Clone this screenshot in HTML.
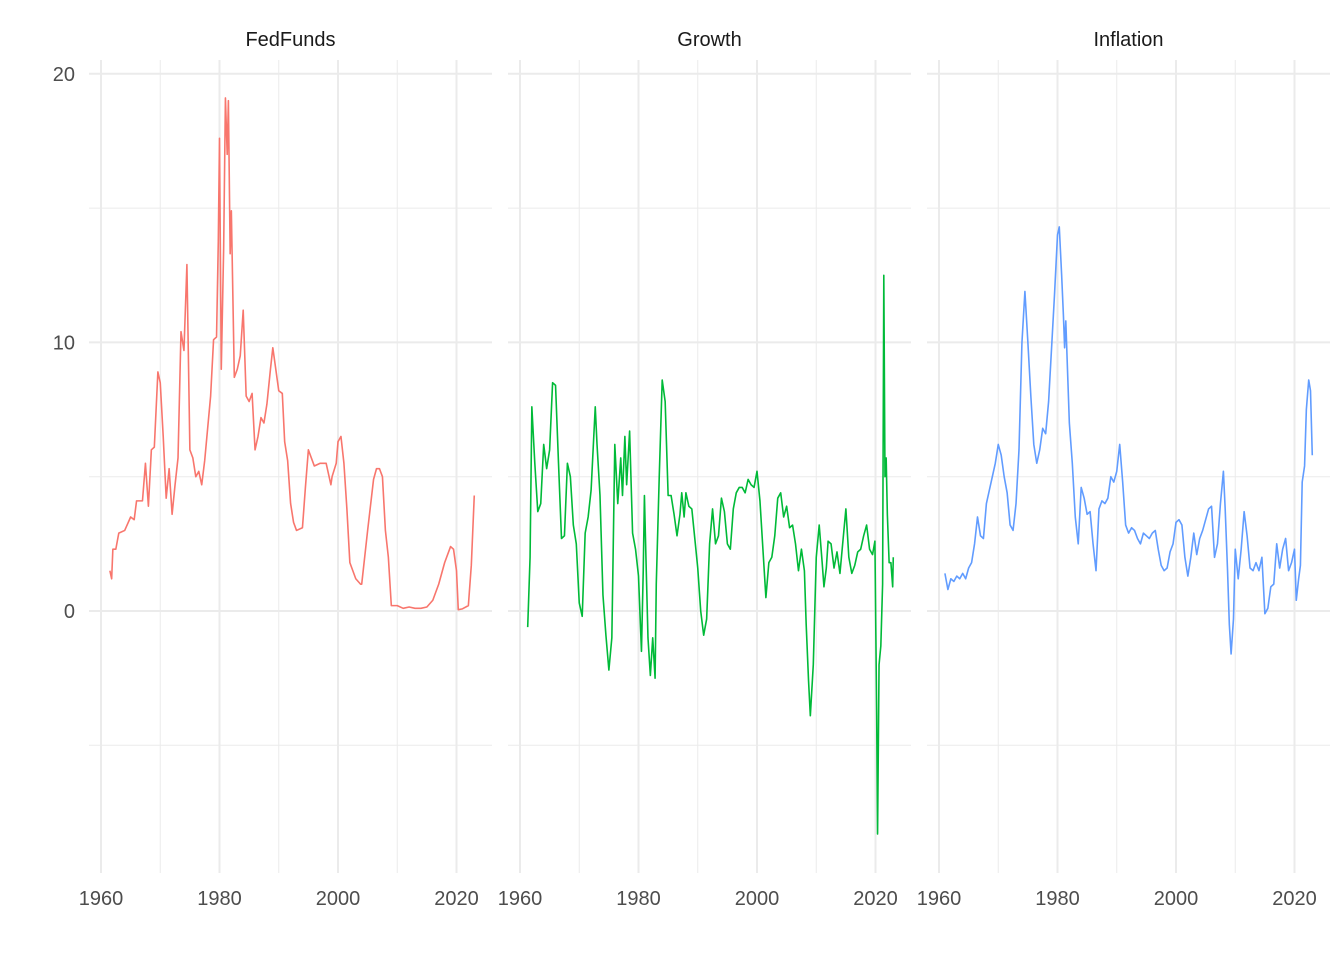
<!DOCTYPE html>
<html><head><meta charset="utf-8"><style>
html,body{margin:0;padding:0;background:#fff}
svg{display:block;font-family:"Liberation Sans",Arial,sans-serif}
</style></head><body>
<svg id="chart" width="1344" height="960" viewBox="0 0 1344 960"></svg>
<script>
const panelNames = ["FedFunds","Growth","Inflation"];
const panelColors = ["#F8766D","#00BA38","#619CFF"];
const xTicks = [1960,1980,2000,2020];
const xMinor = [1970,1990,2010];
const yTicks = [0,10,20];
const yMinor = [-5,5,15];

const fedYears = [1961.5,1961.8,1962,1962.5,1963,1964,1965,1965.6,1966,1967,1967.5,1968,1968.5,1969,1969.6,1970,1970.5,1971,1971.5,1972,1972.5,1973,1973.5,1974,1974.5,1975,1975.5,1976,1976.5,1977,1977.5,1978,1978.5,1979,1979.5,1979.8,1980,1980.3,1980.7,1981,1981.3,1981.5,1981.8,1982,1982.5,1983,1983.5,1984,1984.5,1985,1985.5,1986,1986.5,1987,1987.5,1988,1988.6,1989,1989.5,1990,1990.6,1991,1991.5,1992,1992.5,1993,1994,1994.5,1995,1996,1997,1998,1998.8,1999,1999.7,2000,2000.5,2001,2001.5,2002,2003,2003.8,2004,2005,2006,2006.5,2007,2007.5,2008,2008.5,2009,2010,2011,2012,2013,2014,2015,2016,2017,2018,2019,2019.5,2020,2020.3,2021,2022,2022.5,2023];
const fedValues = [1.5,1.2,2.3,2.3,2.9,3.0,3.5,3.4,4.1,4.1,5.5,3.9,6.0,6.1,8.9,8.5,6.5,4.2,5.3,3.6,4.7,5.7,10.4,9.7,12.9,6.0,5.7,5.0,5.2,4.7,5.6,6.8,8.0,10.1,10.2,13.8,17.6,9.0,13.5,19.1,17.0,19.0,13.3,14.9,8.7,9.0,9.5,11.2,8.0,7.8,8.1,6.0,6.5,7.2,7.0,7.7,9.0,9.8,9.0,8.2,8.1,6.3,5.6,4.0,3.3,3.0,3.1,4.6,6.0,5.4,5.5,5.5,4.7,5.0,5.5,6.3,6.5,5.5,3.8,1.8,1.2,1.0,1.0,3.0,4.9,5.3,5.3,5.0,3.0,2.0,0.2,0.2,0.1,0.15,0.1,0.1,0.15,0.4,1.0,1.8,2.4,2.3,1.5,0.05,0.08,0.2,1.7,4.3];

const growthYears = [1961.3,1961.7,1962,1962.5,1963,1963.5,1964,1964.5,1965,1965.5,1966,1966.5,1967,1967.5,1968,1968.5,1969,1969.5,1970,1970.5,1971,1971.5,1972,1972.7,1973,1973.5,1974,1974.5,1975,1975.5,1976,1976.5,1977,1977.3,1977.7,1978,1978.5,1979,1979.5,1980,1980.5,1980.8,1981,1981.3,1981.6,1982,1982.4,1982.8,1983,1983.5,1984,1984.5,1985,1985.5,1986,1986.5,1987,1987.3,1987.7,1988,1988.5,1989,1989.5,1990,1990.5,1991,1991.5,1992,1992.5,1993,1993.5,1994,1994.5,1995,1995.5,1996,1996.5,1997,1997.5,1998,1998.5,1999,1999.5,2000,2000.5,2001,2001.5,2002,2002.5,2003,2003.5,2004,2004.5,2005,2005.5,2006,2006.5,2007,2007.5,2008,2008.3,2008.7,2009,2009.5,2010,2010.5,2011,2011.3,2011.7,2012,2012.5,2013,2013.5,2014,2014.5,2015,2015.5,2016,2016.5,2017,2017.5,2018,2018.5,2019,2019.5,2019.9,2020.2,2020.35,2020.6,2020.9,2021.2,2021.4,2021.6,2021.8,2022,2022.3,2022.6,2022.9,2023];
const growthValues = [-0.6,2,7.6,5.5,3.7,4,6.2,5.3,6,8.5,8.4,5.5,2.7,2.8,5.5,5,3.2,2.5,0.3,-0.2,2.9,3.5,4.5,7.6,6.2,4.3,0.6,-0.9,-2.2,-1.0,6.2,4,5.7,4.3,6.5,4.7,6.7,2.9,2.3,1.3,-1.5,1.5,4.3,1.6,-1.0,-2.4,-1.0,-2.5,1.0,5.0,8.6,7.8,4.3,4.3,3.6,2.8,3.6,4.4,3.5,4.4,3.9,3.8,2.7,1.6,0,-0.9,-0.3,2.5,3.8,2.5,2.8,4.2,3.7,2.5,2.3,3.8,4.4,4.6,4.6,4.4,4.9,4.7,4.6,5.2,4.1,2.3,0.5,1.8,2.0,2.8,4.2,4.4,3.5,3.9,3.1,3.2,2.5,1.5,2.3,1.5,-0.5,-2.6,-3.9,-2.0,2.0,3.2,1.8,0.9,1.6,2.6,2.5,1.6,2.2,1.4,2.6,3.8,2.0,1.4,1.7,2.2,2.3,2.8,3.2,2.3,2.1,2.6,-3.9,-8.3,-2.0,-1.3,1.0,12.5,5.0,5.7,3.6,1.8,1.8,0.9,2.0];

const inflYears = [1961,1961.5,1962,1962.5,1963,1963.5,1964,1964.5,1965,1965.5,1966,1966.5,1967,1967.5,1968,1968.5,1969,1969.5,1970,1970.5,1971,1971.5,1972,1972.5,1973,1973.5,1974,1974.5,1975,1975.5,1976,1976.5,1977,1977.5,1978,1978.5,1979,1979.5,1980,1980.3,1980.7,1981,1981.2,1981.4,1982,1982.5,1983,1983.5,1984,1984.5,1985,1985.5,1986,1986.5,1987,1987.5,1988,1988.5,1989,1989.5,1990,1990.5,1991,1991.5,1992,1992.5,1993,1993.5,1994,1994.5,1995,1995.5,1996,1996.5,1997,1997.5,1998,1998.5,1999,1999.5,2000,2000.5,2001,2001.5,2002,2002.5,2003,2003.5,2004,2004.5,2005,2005.5,2006,2006.5,2007,2007.5,2008,2008.3,2008.7,2009,2009.3,2009.7,2010,2010.5,2011,2011.5,2012,2012.5,2013,2013.5,2014,2014.5,2015,2015.5,2016,2016.5,2017,2017.5,2018,2018.5,2019,2019.5,2020,2020.3,2020.7,2021,2021.3,2021.7,2022,2022.4,2022.7,2023];
const inflValues = [1.4,0.8,1.2,1.1,1.3,1.2,1.4,1.2,1.6,1.8,2.5,3.5,2.8,2.7,4.0,4.5,5.0,5.5,6.2,5.8,5.0,4.4,3.2,3.0,4.0,6.0,10.0,11.9,10.0,8.0,6.2,5.5,6.0,6.8,6.6,7.8,9.8,11.8,14.0,14.3,12.5,11.0,9.8,10.8,7.0,5.5,3.5,2.5,4.6,4.2,3.6,3.7,2.5,1.5,3.8,4.1,4.0,4.2,5.0,4.8,5.2,6.2,4.8,3.2,2.9,3.1,3.0,2.7,2.5,2.9,2.8,2.7,2.9,3.0,2.3,1.7,1.5,1.6,2.2,2.5,3.3,3.4,3.2,2.0,1.3,2.0,2.9,2.1,2.7,3.0,3.4,3.8,3.9,2.0,2.5,4.0,5.2,3.8,1.5,-0.5,-1.6,-0.3,2.3,1.2,2.3,3.7,2.8,1.6,1.5,1.8,1.5,2.0,-0.1,0.1,0.9,1.0,2.5,1.6,2.3,2.7,1.5,1.8,2.3,0.4,1.2,1.7,4.8,5.4,7.5,8.6,8.2,5.8];

const seriesYears = [fedYears, growthYears, inflYears];
const seriesValues = [fedValues, growthValues, inflValues];

const NS="http://www.w3.org/2000/svg";
const svg=document.getElementById("chart");
function mk(tag,attrs,parent){const e=document.createElementNS(NS,tag);for(const k in attrs)e.setAttribute(k,attrs[k]);(parent||svg).appendChild(e);return e;}

const panelLeft=[89,508,927], panelW=403, panelTop=60, panelBottom=873;
const yScale=v=>611-v*26.86;
const xScaleFor=p=>yr=>panelLeft[p]+12+(yr-1960)*5.925;

panelNames.forEach((name,p)=>{
  const g=mk("g",{});
  
  
  const xs=xScaleFor(p), L=panelLeft[p], R=L+panelW;
  yMinor.forEach(v=>{const l=mk("line",{x1:L,x2:R,y1:yScale(v),y2:yScale(v),stroke:"#ebebeb","stroke-width":1},g);
    
    });
  xMinor.forEach(v=>{const l=mk("line",{x1:xs(v),x2:xs(v),y1:panelTop,y2:panelBottom,stroke:"#ebebeb","stroke-width":1},g);
    
    });
  yTicks.forEach(v=>{const l=mk("line",{x1:L,x2:R,y1:yScale(v),y2:yScale(v),stroke:"#ebebeb","stroke-width":2},g);
    
    });
  xTicks.forEach(v=>{const l=mk("line",{x1:xs(v),x2:xs(v),y1:panelTop,y2:panelBottom,stroke:"#ebebeb","stroke-width":2},g);
    
    
    const t=mk("text",{x:xs(v),y:905,"text-anchor":"middle","font-size":20,fill:"#4d4d4d"},g);t.textContent=v;
    
    });
  const st=mk("text",{x:L+panelW/2,y:46,"text-anchor":"middle","font-size":20,fill:"#1a1a1a"},g);st.textContent=name;
  
  
  const yrs=seriesYears[p], vals=seriesValues[p];
  const d=yrs.map((y,i)=>(i?"L":"M")+xs(y).toFixed(2)+","+yScale(vals[i]).toFixed(2)).join("");
  const path=mk("path",{d:d,fill:"none",stroke:panelColors[p],"stroke-width":1.6,"stroke-linejoin":"round"},g);
  
  
});
yTicks.forEach(v=>{const t=mk("text",{x:75,y:yScale(v)+7,"text-anchor":"end","font-size":20,fill:"#4d4d4d"});t.textContent=v;
  
  });
</script>
</body></html>
